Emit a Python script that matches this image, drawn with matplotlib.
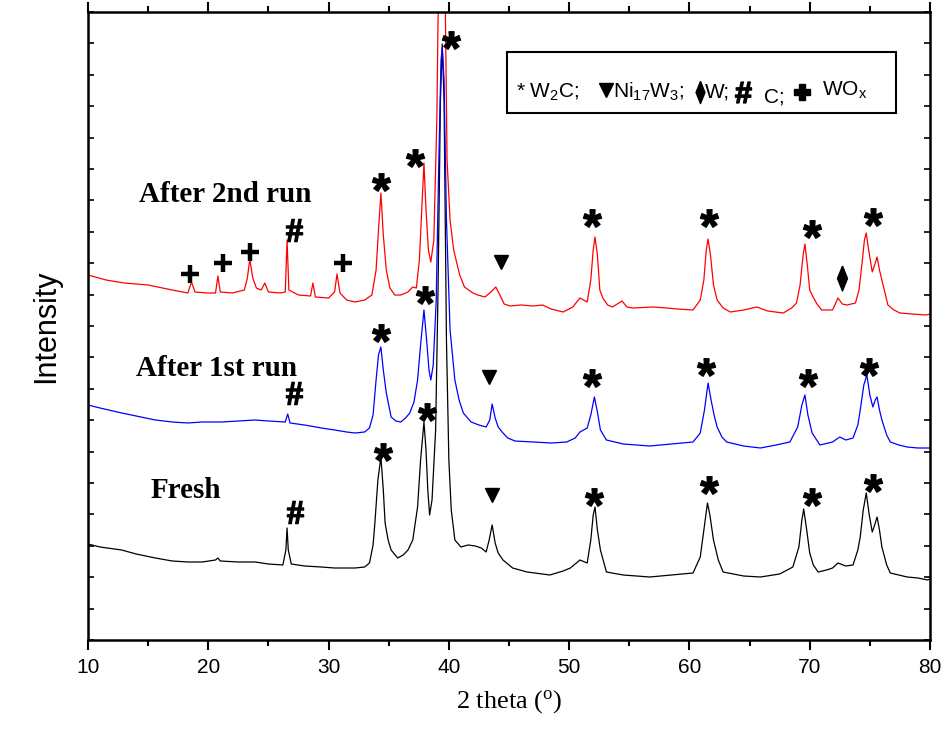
import numpy as np
import matplotlib
matplotlib.use("Agg")
import matplotlib.pyplot as plt
from matplotlib.textpath import TextPath
from matplotlib.font_manager import FontProperties
from matplotlib.path import Path
from matplotlib.patches import Rectangle

plt.rcParams['mathtext.default'] = 'regular'

# ---------------- data (2 theta in degrees, intensity in arbitrary units) ----------------
red_x = [10.0, 11.5, 13.0, 15.0, 17.0, 18.3, 18.6, 18.9, 20.0, 20.6, 20.8, 21.0, 22.0, 23.0, 23.25, 23.45,
         23.7, 24.0, 24.4, 24.7, 25.0, 26.0, 26.4, 26.55, 26.7, 27.5, 28.5, 28.7, 28.9, 30.0, 30.5, 30.7,
         30.95, 31.5, 32.2, 33.0, 33.6, 33.95, 34.15, 34.35, 34.55, 34.8, 35.1, 35.5, 36.0, 36.6, 37.0,
         37.3, 37.55, 37.75, 37.93, 38.1, 38.3, 38.5, 38.75, 39.0, 39.1, 39.4, 39.7, 39.85, 40.1, 40.4,
         40.6, 40.9, 41.3, 42.0, 42.4, 43.0, 43.5, 43.9, 44.2, 44.6, 45.1, 46.0, 47.0, 47.8, 48.5, 49.5,
         50.3, 50.9, 51.5, 51.8, 52.0, 52.15, 52.35, 52.55, 52.8, 53.2, 53.6, 54.4, 54.8, 55.3, 57.0, 58.1,
         59.0, 60.3, 60.9, 61.2, 61.4, 61.55, 61.75, 62.0, 62.3, 62.8, 63.4, 64.5, 65.6, 66.5, 67.8, 68.5,
         68.9, 69.2, 69.45, 69.6, 69.8, 70.0, 70.2, 70.6, 71.0, 71.9, 72.35, 72.7, 73.1, 73.8, 74.1, 74.35,
         74.55, 74.7, 74.9, 75.2, 75.4, 75.6, 75.8, 76.0, 76.5, 77.0, 77.5, 78.5, 79.7, 80.0]
red_y = [365, 360, 357, 355, 350, 347, 358, 348, 347, 347, 364, 348, 347, 350, 362, 381,
         362, 352, 350, 357, 348, 347, 348, 400, 350, 345, 344, 357, 343, 342, 348, 366,
         347, 340, 338, 340, 345, 370, 410, 447, 405, 370, 352, 345, 345, 348, 353,
         352, 380, 430, 477, 430, 390, 378, 400, 520, 620, 740, 640, 480, 420, 390,
         380, 365, 353, 347, 345, 343, 348, 353, 346, 336, 334, 335, 334, 335, 331, 328,
         333, 342, 338, 360, 390, 403, 385, 350, 342, 335, 333, 339, 333, 332, 333, 332,
         331, 330, 340, 360, 390, 401, 385, 355, 340, 332, 328, 330, 333, 329, 327, 332,
         337, 355, 385, 396, 375, 350, 345, 336, 330, 330, 342, 336, 335, 337, 350, 377,
         400, 407, 390, 368, 375, 383, 370, 360, 335, 330, 327, 326, 325, 326]

blue_x = [10.0, 11.0, 12.8, 14.0, 15.6, 17.0, 18.3, 19.5, 21.1, 22.5, 23.9, 25.0, 26.4, 26.6, 26.8, 28.0,
          29.4, 30.5, 31.5, 32.2, 33.0, 33.4, 33.7, 33.95, 34.15, 34.35, 34.55, 34.8, 35.2, 35.6, 36.0,
          36.4, 36.75, 37.1, 37.4, 37.65, 37.93, 38.15, 38.35, 38.5, 38.7, 38.95, 39.15, 39.35, 39.45,
          39.6, 39.8, 40.1, 40.5, 40.85, 41.2, 41.85, 42.5, 43.1, 43.4, 43.6, 43.85, 44.1, 44.5, 44.9,
          45.5, 47.0, 48.5, 49.8, 50.5, 50.9, 51.5, 51.8, 52.1, 52.35, 52.6, 53.1, 54.5, 56.7, 58.5, 60.3,
          60.9, 61.25, 61.55, 61.8, 62.05, 62.3, 62.7, 63.1, 64.5, 65.9, 67.2, 68.35, 69.0, 69.35, 69.6,
          69.85, 70.2, 70.85, 71.9, 72.5, 73.0, 73.6, 74.0, 74.2, 74.5, 74.75, 75.0, 75.25, 75.45, 75.6,
          75.8, 76.0, 76.4, 76.7, 77.4, 78.1, 79.0, 80.0]
blue_y = [235, 232, 227, 224, 220, 218, 217, 218, 218, 219, 220, 219, 218, 226, 217, 215,
          212, 210, 208, 207, 208, 212, 225, 260, 285, 293, 270, 247, 223, 219, 218,
          222, 227, 238, 260, 295, 330, 300, 270, 260, 275, 340, 470, 580, 592,
          560, 420, 310, 260, 240, 227, 218, 215, 213, 220, 236, 222, 213, 207, 202,
          199, 198, 197, 198, 202, 208, 212, 225, 243, 228, 210, 200, 196, 194, 196, 198,
          207, 230, 257, 240, 225, 213, 203, 198, 194, 192, 195, 198, 213, 235, 245,
          225, 207, 195, 198, 203, 200, 202, 215, 230, 255, 265, 245, 233, 240, 243,
          230, 220, 205, 198, 195, 193, 192, 192]

black_x = [10.0, 11.0, 12.8, 14.0, 15.6, 17.0, 18.3, 19.5, 20.6, 20.8, 21.0, 22.5, 23.9, 25.0, 26.2, 26.45,
           26.55, 26.65, 26.9, 28.0, 29.4, 30.5, 32.2, 33.0, 33.4, 33.7, 33.85, 34.1, 34.35, 34.55, 34.7,
           34.95, 35.2, 35.75, 36.2, 36.6, 37.0, 37.4, 37.65, 37.93, 38.1, 38.25, 38.4, 38.6, 38.9, 39.1,
           39.3, 39.45, 39.6, 39.8, 40.0, 40.2, 40.5, 41.0, 41.6, 42.2, 42.7, 43.1, 43.35, 43.6, 43.85,
           44.1, 44.5, 45.3, 46.5, 48.4, 49.5, 50.1, 50.9, 51.5, 51.8, 52.0, 52.15, 52.35, 52.6, 53.1,
           54.5, 56.7, 58.5, 60.3, 60.9, 61.2, 61.5, 61.7, 62.0, 62.4, 62.8, 64.5, 65.9, 67.5, 68.6,
           69.1, 69.35, 69.5, 69.75, 70.0, 70.3, 70.7, 71.4, 71.9, 72.35, 73.0, 73.6, 74.0, 74.2, 74.45,
           74.7, 74.95, 75.2, 75.4, 75.6, 75.8, 76.0, 76.4, 76.7, 77.4, 78.1, 79.0, 79.8, 80.0]
black_y = [96, 93, 90, 86, 82, 79, 78, 78, 80, 82, 79, 78, 78, 76, 75, 90,
           112, 90, 76, 74, 73, 72, 72, 73, 77, 95, 117, 160, 183, 150, 117,
           100, 90, 82, 85, 90, 100, 133, 180, 218, 190, 150, 125, 140, 210, 350,
           540, 596, 540, 300, 180, 130, 100, 93, 95, 94, 92, 88, 100, 115, 97,
           87, 80, 72, 68, 65, 69, 72, 80, 77, 100, 125, 133, 110, 90, 68,
           65, 63, 65, 67, 83, 110, 137, 125, 100, 80, 68, 64, 63, 66, 73,
           93, 120, 131, 110, 87, 75, 68, 70, 72, 77, 74, 75, 90, 103, 130,
           147, 125, 108, 115, 123, 110, 93, 75, 67, 65, 63, 62, 60, 61]

sample_labels = ["After 2nd run", "After 1st run", "Fresh"]
x_ticks = [10, 20, 30, 40, 50, 60, 70, 80]

# phase markers (2 theta, intensity) for each pattern
star_pos = [(34.35, 458), (37.2, 482), (40.2, 600), (51.9, 422), (61.6, 422), (70.2, 411), (75.25, 423),
            (34.35, 307), (38.0, 345), (51.9, 262), (61.4, 273), (69.85, 262), (74.9, 273),
            (34.5, 188), (38.2, 228), (52.1, 143), (61.6, 155), (70.2, 143), (75.25, 157)]
hash_pos = [(27.1, 410), (27.1, 247), (27.2, 128)]
plus_pos = [(18.5, 366), (21.2, 377), (23.5, 388), (31.2, 377)]
tri_pos = [(44.3, 378), (43.3, 263), (43.6, 145)]
diam_pos = [(72.7, 362)]


def glyph(ch, family, weight='bold'):
    tp = TextPath((0, 0), ch, size=1, prop=FontProperties(family=family, weight=weight))
    v = tp.vertices.copy()
    codes = tp.codes.copy()
    start = 0
    for i, c in enumerate(codes):
        if c == Path.MOVETO:
            start = i
        elif c == Path.CLOSEPOLY:
            v[i] = v[start]
    x0, x1 = v[:, 0].min(), v[:, 0].max()
    y0, y1 = v[:, 1].min(), v[:, 1].max()
    v[:, 0] -= (x0 + x1) / 2
    v[:, 1] -= (y0 + y1) / 2
    return Path(v, codes)


star_m = glyph('*', 'Liberation Sans')
hash_m = glyph('#', 'Liberation Serif')
hash_leg = glyph('#', 'Liberation Sans')
diam_m = [(0, 1), (0.4, 0), (0, -1), (-0.4, 0), (0, 1)]

fig = plt.figure(figsize=(9.47, 7.40), dpi=100)
ax = fig.add_axes([88 / 947, 100 / 740, (930 - 88) / 947, (640 - 12) / 740])

ax.plot(black_x, black_y, color='black', lw=0.9)
ax.plot(blue_x, blue_y, color='#0000ff', lw=0.9)
ax.plot(red_x, red_y, color='#ff0000', lw=0.9)


def pts(lst):
    return [p[0] for p in lst], [p[1] for p in lst]


sx, sy = pts(star_pos)
ax.plot(sx, sy, ls='none', marker=star_m, ms=13, color='black', clip_on=False)
hx, hy = pts(hash_pos)
ax.plot(hx, hy, ls='none', marker=hash_m, ms=16, color='black')
px_, py_ = pts(plus_pos)
ax.plot(px_, py_, ls='none', marker='+', ms=13, mew=3.2, color='black')
tx, ty = pts(tri_pos)
ax.plot(tx, ty, ls='none', marker='v', ms=10.5, color='black')
dx, dy = pts(diam_pos)
ax.plot(dx, dy, ls='none', marker=diam_m, ms=18, color='black')

# sample labels
lab_font = dict(family='Liberation Serif', weight='bold', fontsize=21)
ax.text(14.2, 445, sample_labels[0], ha='left', va='center', **lab_font)
ax.text(14.0, 272, sample_labels[1], ha='left', va='center', **lab_font)
ax.text(15.2, 150, sample_labels[2], ha='left', va='center', **lab_font)

# legend box
ax.add_patch(Rectangle((44.83, 527), 77.17 - 44.83, 588 - 527, fill=False, lw=1.5, ec='black', zorder=5))
lf = dict(family='Liberation Sans', fontsize=15, va='center', ha='left')
ly = 548
ax.text(45.6, ly, '* W$_2$C;', **lf)
ax.plot([53.06], [ly + 2], ls='none', marker='v', ms=10, color='black')
ax.text(53.64, ly, 'Ni$_{17}$W$_3$;', **lf)
ax.plot([60.85], [ly], ls='none', marker=diam_m, ms=16, color='black')
ax.text(61.25, ly, 'W;', **lf)
ax.plot([64.45], [ly], ls='none', marker=hash_leg, ms=15, color='black')
ax.text(66.2, ly - 5, 'C;', **lf)
ax.plot([69.35], [ly], ls='none', marker='P', ms=11, color='black')
ax.text(71.0, ly + 2, 'WO$_x$', **lf)

# axes formatting
ax.set_xlim(10, 80)
ax.set_ylim(0, 628)
ax.set_xticks(x_ticks)
ax.set_xticks(np.arange(15, 80, 10), minor=True)
ax.set_yticks(np.linspace(0, 628, 21))
ax.set_yticklabels([])
ax.tick_params(axis='x', which='major', direction='out', length=7, width=1.5, labelsize=15, pad=6,
               top=True)
ax.tick_params(axis='x', which='minor', direction='out', length=4, width=1.5, top=True)
ax.tick_params(axis='y', which='both', direction='in', length=4, width=1.2, right=True)
for lab in ax.get_xticklabels():
    lab.set_family('Liberation Sans')
for s in ax.spines.values():
    s.set_linewidth(1.8)

ax.set_xlabel('2 theta ($^o$)', family='Liberation Serif', fontsize=19, labelpad=8)
ax.set_ylabel('Intensity', family='Liberation Sans', fontsize=22, labelpad=16)

fig.savefig('out.png', dpi=100)
